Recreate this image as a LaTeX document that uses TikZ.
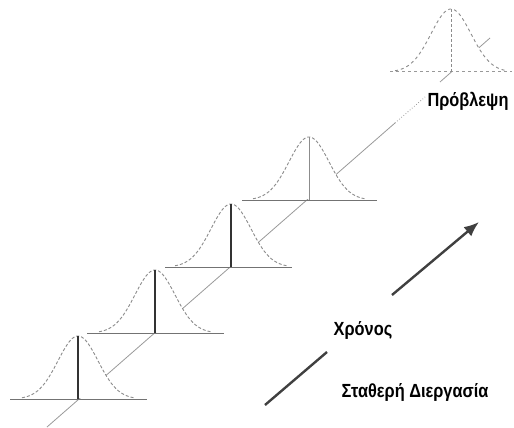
\documentclass[tikz,border=0pt]{standalone}
\usepackage{fontspec}
\usepackage{graphicx}
\setmainfont{Liberation Sans}
\usetikzlibrary{arrows.meta}
\newcommand{\narrowtxt}[1]{\scalebox{0.86}[1]{#1}}
\tikzset{
  bellline/.style={draw=black!45, line width=0.9pt, densely dashed, fill=white},
  topbell/.style={draw=black!45, line width=0.9pt, dashed, fill=white},
  baseln/.style={draw=black!55, line width=1pt},
  meanln/.style={draw=black!80, line width=1.8pt},
  trendln/.style={draw=black!40, line width=0.8pt},
  timeln/.style={draw=black!75, line width=2.4pt},
  lbl/.style={font=\fontsize{19}{21}\selectfont\bfseries, text=black, inner sep=0pt}
}
\newcommand{\bellat}[3]{%
  \path[#3, shift={(#1,#2)}] plot[domain=-56:56, samples=80, smooth] (\x,{-63*exp(-((\x/20)^2)/2)});
}
\begin{document}
\begin{tikzpicture}[x=1pt,y=-1pt]
\useasboundingbox (0,0) rectangle (514,428);
% trend line
\coordinate (t0) at (47,427);
\coordinate (t1) at (395,123);
\coordinate (t2) at (425,97);
\coordinate (t3) at (440,82);
\coordinate (t4) at (490,38);
\draw[trendln] (t0) -- (t1);
\draw[trendln, dotted] (t1) -- (t2);
\draw[trendln] (t3) -- (t4);
% bells
\bellat{78}{399}{bellline}
\bellat{155}{333}{bellline}
\bellat{231}{267}{bellline}
\bellat{309}{200}{bellline}
\bellat{451}{72}{topbell}
% baselines
\coordinate (b1l) at (10,399); \coordinate (b1r) at (147,399);
\coordinate (b2l) at (87,333); \coordinate (b2r) at (224,333);
\coordinate (b3l) at (165,267); \coordinate (b3r) at (292,267);
\coordinate (b4l) at (242,200); \coordinate (b4r) at (377,200);
\coordinate (b5l) at (390,72); \coordinate (b5r) at (512,72);
\draw[baseln] (b1l) -- (b1r);
\draw[baseln] (b2l) -- (b2r);
\draw[baseln] (b3l) -- (b3r);
\draw[baseln] (b4l) -- (b4r);
\draw[baseln, dashed, draw=black!40] (b5l) -- (b5r);
% mean lines
\coordinate (m1b) at (78,399); \coordinate (m1t) at (78,336);
\coordinate (m2b) at (155,333); \coordinate (m2t) at (155,270);
\coordinate (m3b) at (231,267); \coordinate (m3t) at (231,204);
\coordinate (m4b) at (309,200); \coordinate (m4t) at (309,137);
\coordinate (m5b) at (451,72); \coordinate (m5t) at (451,9);
\draw[meanln] (m1b) -- (m1t);
\draw[meanln] (m2b) -- (m2t);
\draw[meanln] (m3b) -- (m3t);
\draw[draw=black!45, line width=0.8pt] (m4b) -- (m4t);
\draw[draw=black!45, line width=0.8pt, densely dashed] (m5b) -- (m5t);
% time arrow
\coordinate (a0) at (265,405); \coordinate (a1) at (327,352);
\coordinate (a2) at (392,295); \coordinate (a3) at (479,222);
\draw[timeln] (a0) -- (a1);
\draw[timeln, -{Latex[length=15pt,width=12pt]}] (a2) -- (a3);
% labels
\node[lbl] (xronos) at (363,330) {\narrowtxt{Χρόνος}};
\node[lbl] (stath) at (415,392) {\narrowtxt{Σταθερή Διεργασία}};
\node[lbl] (prob) at (468,101) {\narrowtxt{Πρόβλεψη}};
\end{tikzpicture}
\end{document}
